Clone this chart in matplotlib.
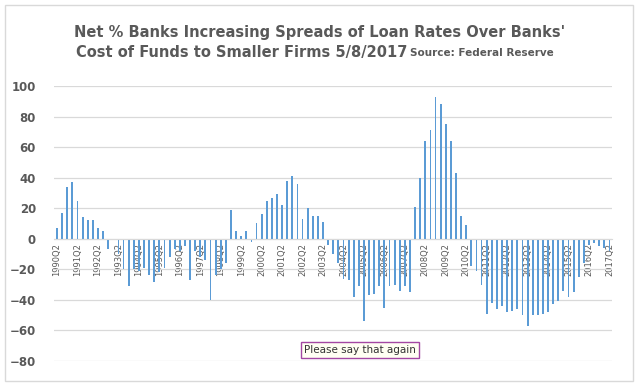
import matplotlib
matplotlib.use("Agg")
import matplotlib.pyplot as plt
from matplotlib.patches import Rectangle


# quarterly series, 1990Q2 .. 2017Q2
START_YEAR = 1990
SPREAD_VALUES = [
    7, 17, 34, 37, 25, 14, 12, 12, 7, 5,            # 1990Q2 - 1992Q3
    -7, 0, -10, -20, -31, -20, -21, -19, -24, -28,  # 1992Q4 - 1995Q1
    -22, -19, -12, -7, -8, -5, -27, -8, -12, -14,   # 1995Q2 - 1997Q3
    -40, -24, -20, -16, 19, 5, 1.5, 5, -2, 10,      # 1997Q4 - 2000Q1
    16, 25, 27, 29, 22, 38, 41, 36, 13, 20,         # 2000Q2 - 2002Q3
    15, 15, 11, -4, -10, -16, -26, -27, -38, -31,   # 2002Q4 - 2005Q1
    -54, -37, -36, -31, -45, -31, -30, -34, -31, -35,  # 2005Q2 - 2007Q3
    21, 40, 64, 71, 93, 88, 75, 64, 43, 15,         # 2007Q4 - 2010Q1
    9, -18, -21, -30, -49, -42, -46, -44, -48, -47,  # 2010Q2 - 2012Q3
    -46, -50, -57, -50, -50, -49, -48, -43, -41, -34,  # 2012Q4 - 2015Q1
    -38, -35, -25, -16, -4, -3, -5, -6, -8,         # 2015Q2 - 2017Q2
]
QUARTER_LABELS = [
    f"{START_YEAR + (q + 1) // 4}Q{(q + 1) % 4 + 1}" for q in range(len(SPREAD_VALUES))
]
Y_TICKS = [-80, -60, -40, -20, 0, 20, 40, 60, 80, 100]

TITLE_LINE1 = "Net % Banks Increasing Spreads of Loan Rates Over Banks'"
TITLE_LINE2 = "Cost of Funds to Smaller Firms 5/8/2017"
SOURCE_TEXT = "Source: Federal Reserve"
NOTE_TEXT = "Please say that again"

BAR_COLOR = "#5b9bd5"
GRID_COLOR = "#d9d9d9"
TEXT_COLOR = "#595959"


def main() -> None:
    fig = plt.figure(figsize=(6.4, 3.87), dpi=100)
    fig.patches.append(
        Rectangle((5 / 640, 6 / 387), 628 / 640, 376 / 387, transform=fig.transFigure,
                  fill=False, edgecolor=GRID_COLOR, linewidth=1.0)
    )

    ax = fig.add_axes([54 / 640, 1 - 361 / 387, 558 / 640, 275 / 387])
    # move the x axis to y=0 first: set_position resets the tick objects
    ax.spines["bottom"].set_position(("data", 0))
    ax.spines["bottom"].set_color(GRID_COLOR)
    for side in ("left", "right", "top"):
        ax.spines[side].set_visible(False)

    xs = list(range(len(SPREAD_VALUES)))
    ax.bar(xs, SPREAD_VALUES, width=0.36, color=BAR_COLOR, zorder=2)

    ax.set_xlim(-0.6, len(SPREAD_VALUES) - 0.5)
    ax.set_ylim(-80, 100)
    ax.set_yticks(Y_TICKS)
    ax.yaxis.grid(True, color=GRID_COLOR, linewidth=0.9, zorder=0)
    ax.set_axisbelow(True)

    tick_idx = xs[::4]
    ax.set_xticks(tick_idx)
    ax.set_xticklabels([QUARTER_LABELS[i] for i in tick_idx], rotation=90,
                       fontsize=6, color=TEXT_COLOR, va="top", ha="center")
    ax.tick_params(axis="x", length=0, pad=3)
    ax.tick_params(axis="y", length=0, pad=13, labelsize=8.5, labelcolor=TEXT_COLOR)
    for lbl in ax.get_yticklabels():
        lbl.set_fontweight("bold")

    fig.text(0.5, 1 - 32 / 387, TITLE_LINE1, ha="center", va="center",
             fontsize=10.5, fontweight="bold", color=TEXT_COLOR)
    fig.text(407 / 640, 1 - 52 / 387, TITLE_LINE2, ha="right", va="center",
             fontsize=10.5, fontweight="bold", color=TEXT_COLOR)
    fig.text(410 / 640, 1 - 53 / 387, SOURCE_TEXT, ha="left", va="center",
             fontsize=7.5, fontweight="bold", color=TEXT_COLOR)

    fig.text(360 / 640, 1 - 350 / 387, NOTE_TEXT, ha="center", va="center",
             fontsize=7.5, color="#333333",
             bbox=dict(boxstyle="square,pad=0.3", facecolor="#fffff2",
                       edgecolor="#a347a3", linewidth=1.0))

    fig.savefig("out.png", dpi=100)
    plt.close(fig)


if __name__ == "__main__":
    main()
